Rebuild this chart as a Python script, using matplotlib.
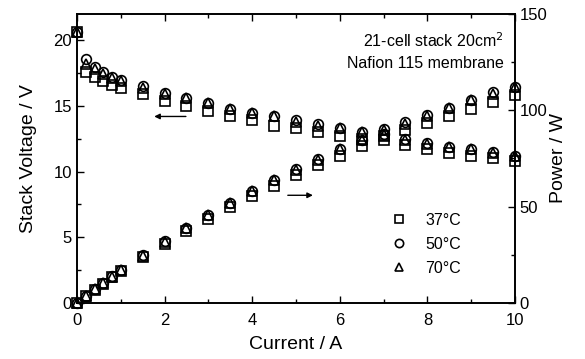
import numpy as np
import matplotlib
matplotlib.use('Agg')
import matplotlib.pyplot as plt
from matplotlib.ticker import MultipleLocator

plt.rcParams['font.family'] = ['Liberation Sans', 'DejaVu Sans']

# current steps (A)
current = [0, 0.2, 0.4, 0.6, 0.8, 1.0, 1.5, 2, 2.5, 3, 3.5, 4, 4.5, 5,
           5.5, 6, 6.5, 7, 7.5, 8, 8.5, 9, 9.5, 10]

# stack voltage (V)
volt_37 = [20.6, 17.6, 17.2, 16.9, 16.6, 16.4, 15.9, 15.4, 15.0, 14.6, 14.2, 13.9,
           13.5, 13.3, 13.0, 12.7, 12.5, 12.4, 12.0, 11.7, 11.4, 11.2, 11.0, 10.8]
volt_50 = [20.6, 18.6, 18.0, 17.6, 17.2, 17.0, 16.5, 16.0, 15.6, 15.2, 14.8, 14.5,
           14.2, 13.9, 13.6, 13.3, 13.0, 12.9, 12.5, 12.2, 11.9, 11.7, 11.5, 11.2]
volt_70 = [20.6, 18.2, 17.8, 17.4, 17.1, 16.9, 16.4, 15.9, 15.6, 15.2, 14.8, 14.5,
           14.2, 13.8, 13.5, 13.3, 13.0, 12.8, 12.4, 12.1, 11.9, 11.7, 11.4, 11.2]

# power (W)
power_37 = [0, 3.5, 6.9, 10.1, 13.3, 16.4, 23.9, 30.8, 37.5, 43.8, 49.7, 55.6,
            60.8, 66.5, 71.5, 76.2, 81.3, 86.8, 90.0, 93.6, 96.9, 100.8, 104.5, 108]
power_50 = [0, 3.7, 7.2, 10.6, 13.8, 17.0, 24.8, 32.0, 39.0, 45.6, 51.8, 58.0,
            63.9, 69.5, 74.8, 79.8, 84.5, 90.3, 93.8, 97.6, 101.2, 105.3, 109.3, 112]
power_70 = [0, 3.6, 7.1, 10.4, 13.7, 16.9, 24.6, 31.8, 39.0, 45.6, 51.8, 58.0,
            63.9, 69.0, 74.3, 79.8, 84.5, 89.6, 93.0, 96.8, 101.2, 105.3, 108.3, 112]

labels = ['37\u00b0C', '50\u00b0C', '70\u00b0C']
markers = ['s', 'o', '^']
sizes = [6.5, 7, 7.5]

fig = plt.figure(figsize=(5.85, 3.59), dpi=100)
ax = fig.add_axes([0.1316, 0.156, 0.7487, 0.805])
ax2 = ax.twinx()

volts = [volt_37, volt_50, volt_70]
powers = [power_37, power_50, power_70]
for v, p, m, s, lab in zip(volts, powers, markers, sizes, labels):
    ax.plot(current, v, linestyle='', marker=m, ms=s, mfc='none', mec='black',
            mew=1.2, clip_on=False, zorder=3, label=lab)
    ax2.plot(current, p, linestyle='', marker=m, ms=s, mfc='none', mec='black',
             mew=1.2, clip_on=False, zorder=3)

ax.set_xlim(0, 10)
ax.set_ylim(0, 22)
ax2.set_ylim(0, 150)

ax.xaxis.set_major_locator(MultipleLocator(2))
ax.xaxis.set_minor_locator(MultipleLocator(1))
ax.yaxis.set_major_locator(MultipleLocator(5))
ax.yaxis.set_minor_locator(MultipleLocator(2.5))
ax2.yaxis.set_major_locator(MultipleLocator(50))
ax2.yaxis.set_minor_locator(MultipleLocator(25))

ax.tick_params(which='both', direction='in', top=True, right=False, labelsize=12, width=1)
ax.tick_params(which='major', length=5)
ax.tick_params(which='minor', length=3)
ax.tick_params(axis='x', pad=7)
ax2.tick_params(which='both', direction='in', labelsize=12, width=1)
ax2.tick_params(which='major', length=5)
ax2.tick_params(which='minor', length=3)

for a in (ax, ax2):
    for sp in a.spines.values():
        sp.set_linewidth(1.2)

ax.set_xlabel('Current / A', fontsize=14, labelpad=6)
ax.set_ylabel('Stack Voltage / V', fontsize=14, labelpad=12)
ax2.set_ylabel('Power / W', fontsize=14, labelpad=2)

ax.text(9.75, 20.0, '21-cell stack 20cm$^2$', ha='right', va='center', fontsize=11.5)
ax.text(9.75, 18.2, 'Nafion 115 membrane', ha='right', va='center', fontsize=11.5)

ax.annotate('', xy=(1.7, 14.2), xytext=(2.55, 14.2),
            arrowprops=dict(arrowstyle='-|>', color='black', lw=1, mutation_scale=8))
ax.annotate('', xy=(5.45, 8.2), xytext=(4.75, 8.2),
            arrowprops=dict(arrowstyle='-|>', color='black', lw=1, mutation_scale=8))

ax.legend(loc='lower right', bbox_to_anchor=(0.91, 0.045), frameon=False, fontsize=11.5,
          handlelength=1.5, handletextpad=0.9, labelspacing=0.55, markerscale=0.85)

fig.savefig('out.png', dpi=100)
